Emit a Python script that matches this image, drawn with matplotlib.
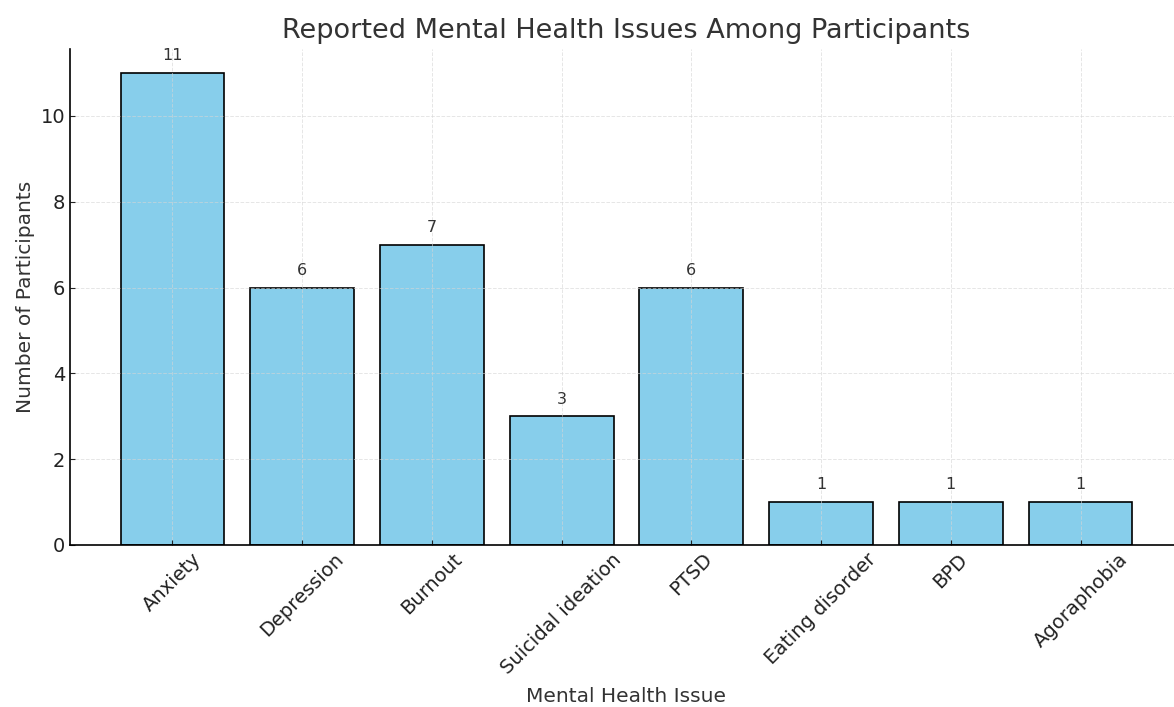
import matplotlib.pyplot as plt

# Nombre de participants par problème de santé mentale
issues = ['Anxiety', 'Depression', 'Burnout', 'Suicidal ideation', 'PTSD',
          'Eating disorder', 'BPD', 'Agoraphobia']
counts = [11, 6, 7, 3, 6, 1, 1, 1]

plt.rcParams['font.family'] = 'DejaVu Sans'
plt.rcParams['text.color'] = '#333333'
plt.rcParams['axes.labelcolor'] = '#333333'

fig = plt.figure(figsize=(11.74, 7.07), dpi=100)
ax = fig.add_axes([70 / 1174, 162 / 707, 1113 / 1174, 495.5 / 707])

bars = ax.bar(issues, counts, color='skyblue', edgecolor='black', linewidth=1.2)

# Valeur au-dessus de chaque barre
for b, v in zip(bars, counts):
    ax.annotate(str(v), (b.get_x() + b.get_width() / 2, v),
                xytext=(0, 7), textcoords='offset points',
                ha='center', va='bottom', fontsize=11.5, color='#333333')

ax.set_title('Reported Mental Health Issues Among Participants',
             fontsize=19.5, color='#333333', pad=8)
ax.set_xlabel('Mental Health Issue', fontsize=14.5, labelpad=7)
ax.set_ylabel('Number of Participants', fontsize=14.5)

ax.grid(True, color='#d5d5d5', linestyle='--', linewidth=0.7, alpha=0.6)
ax.spines['top'].set_visible(False)
ax.spines['right'].set_visible(False)
ax.spines['left'].set_linewidth(1.2)
ax.spines['bottom'].set_linewidth(1.2)
ax.tick_params(direction='in', labelsize=14, colors='#222222')
plt.setp(ax.get_xticklabels(), rotation=45, ha='center', fontsize=14)

plt.savefig('out.png', dpi=100)
